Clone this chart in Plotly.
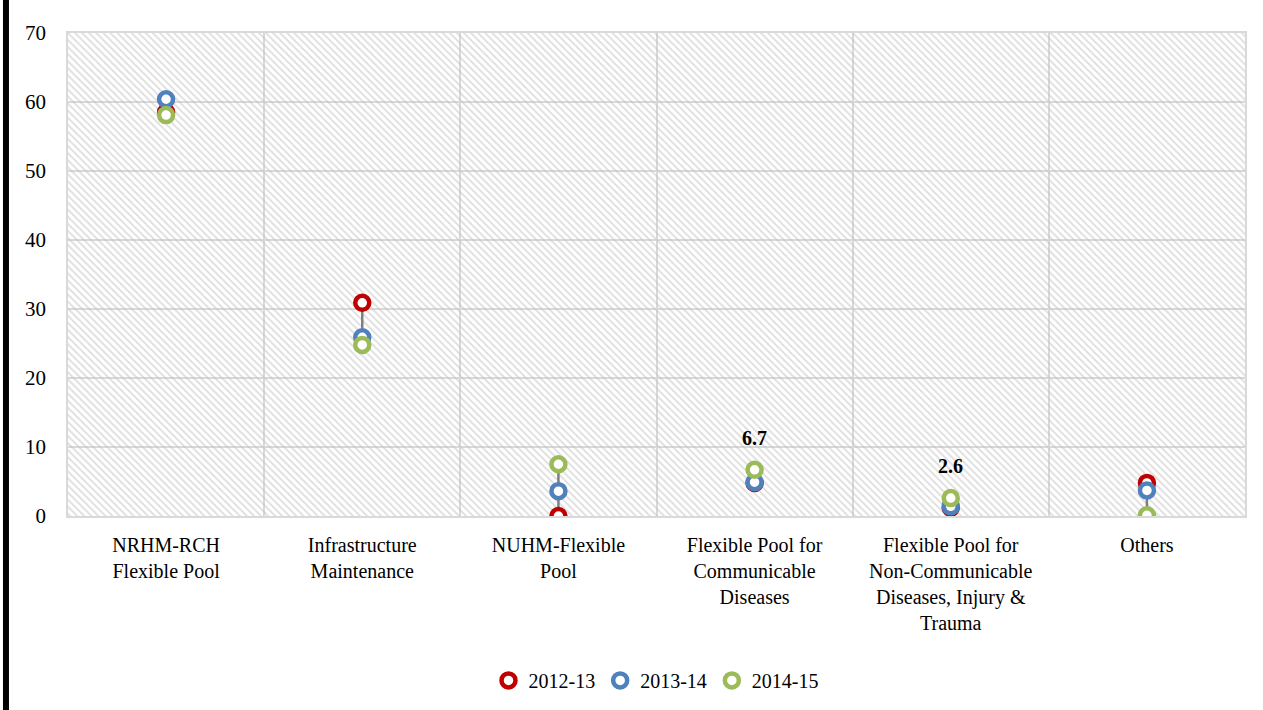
import plotly.graph_objects as go

categories = ["NRHM-RCH<br>Flexible Pool", "Infrastructure<br>Maintenance", "NUHM-Flexible<br>Pool",
              "Flexible Pool for<br>Communicable<br>Diseases",
              "Flexible Pool for<br>Non-Communicable<br>Diseases, Injury &<br>Trauma", "Others"]
s2012 = [58.5, 30.9, 0.0, 4.8, 1.2, 4.8]
s2013 = [60.4, 25.9, 3.6, 4.9, 1.4, 3.7]
s2014 = [58.1, 24.8, 7.5, 6.7, 2.6, 0.1]
series_names = ["2012-13", "2013-14", "2014-15"]
colors = ["#C00000", "#4F81BD", "#9BBB59"]
labelled = {3: "6.7", 4: "2.6"}
y_max = 70

FONT = "Liberation Serif"
fig = go.Figure()

# hatched plot background
fig.add_trace(go.Bar(x=categories, y=[y_max] * len(categories), width=1,
                     marker=dict(color="rgba(0,0,0,0)", line=dict(width=0),
                                 pattern=dict(shape="\\", fgcolor="#bdbdbd", size=5,
                                              solidity=0.35, fillmode="overlay")),
                     showlegend=False, hoverinfo="skip"))

# high-low lines
for i, c in enumerate(categories):
    vals = [s2012[i], s2013[i], s2014[i]]
    fig.add_trace(go.Scatter(x=[c, c], y=[min(vals), max(vals)], mode="lines",
                             line=dict(color="#7f7f7f", width=2.5),
                             showlegend=False, hoverinfo="skip"))

for name, vals, col in zip(series_names, [s2012, s2013, s2014], colors):
    fig.add_trace(go.Scatter(x=categories, y=vals, mode="markers", name=name,
                             marker=dict(symbol="circle", size=14, color="white",
                                         line=dict(color=col, width=4.5))))

for i, txt in labelled.items():
    fig.add_annotation(x=categories[i], y=s2014[i], text="<b>%s</b>" % txt, showarrow=False,
                       yshift=32, font=dict(family=FONT, size=20, color="black"))

# left black border
fig.add_shape(type="line", xref="paper", yref="paper", x0=-0.0527, x1=-0.0527, y0=-0.41, y1=1.08,
              line=dict(color="black", width=6))

fig.update_layout(
    width=1263, height=710,
    margin=dict(l=68, r=18, t=33, b=194, autoexpand=False),
    plot_bgcolor="white", paper_bgcolor="white",
    font=dict(family=FONT, size=19, color="black"),
    barmode="overlay",
    showlegend=True,
    legend=dict(orientation="h", x=0.5, xanchor="center", y=-0.30, yanchor="top",
                font=dict(family=FONT, size=20), itemwidth=30, tracegroupgap=0),
    xaxis=dict(type="category", tickson="boundaries", showgrid=True, gridcolor="#d9d9d9",
               gridwidth=1.5, showline=True, linecolor="#d9d9d9", linewidth=1.5, mirror=True,
               ticks="", tickfont=dict(family=FONT, size=20), range=[-0.5, 5.5],
               ticklabelstandoff=10, automargin=False),
    yaxis=dict(range=[0, y_max], dtick=10, showgrid=True, gridcolor="#d9d9d9", gridwidth=1.5,
               showline=True, linecolor="#d9d9d9", linewidth=1.5, mirror=True, ticks="",
               zeroline=False, tickfont=dict(family=FONT, size=21), ticklabelstandoff=16,
               automargin=False),
)

fig.write_html("out.html", config={"displayModeBar": False},
               post_script="document.body.style.margin='0';document.body.style.overflow='hidden';")
